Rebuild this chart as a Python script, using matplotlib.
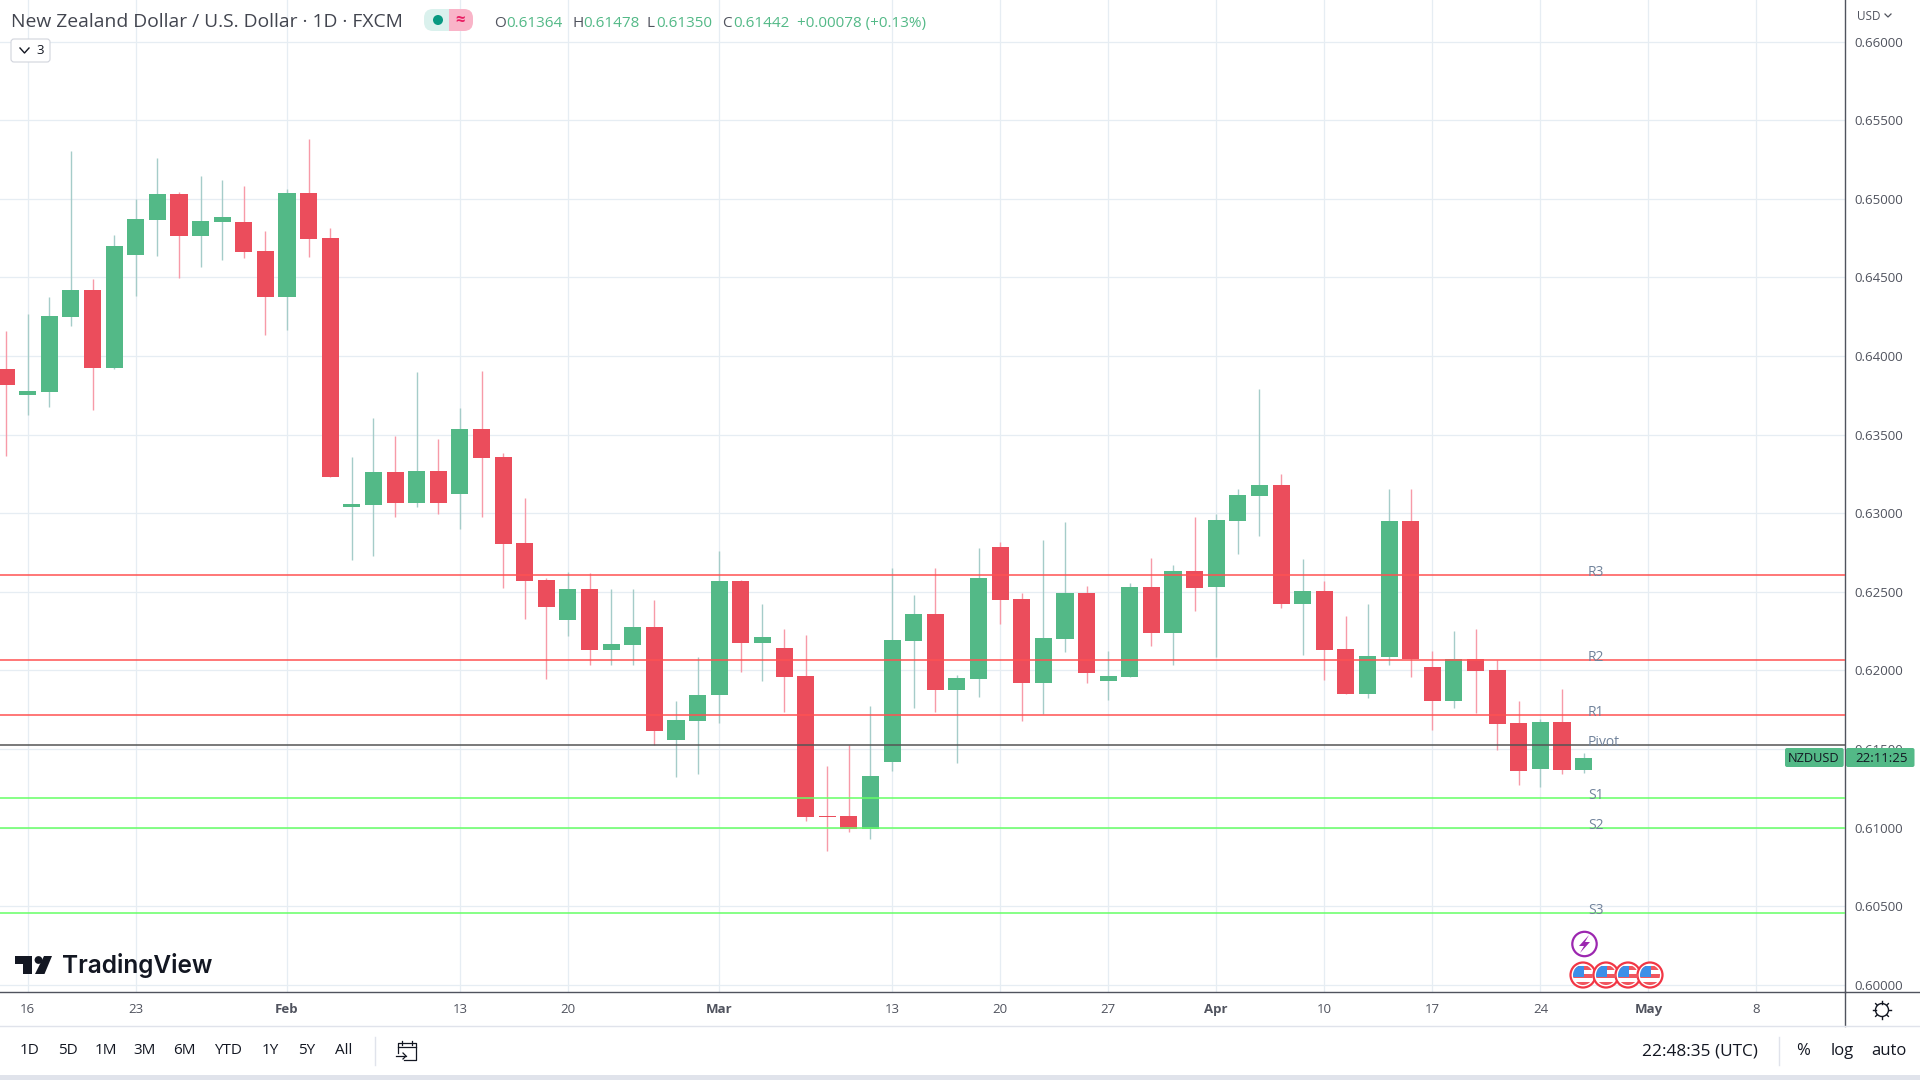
import numpy as np
import pandas as pd
import matplotlib
matplotlib.use("Agg")
import matplotlib.pyplot as plt
from matplotlib.patches import Circle, FancyBboxPatch, Polygon, Rectangle

plt.rcParams['font.family'] = ['Open Sans', 'DejaVu Sans']

# Candles from Fri 13 Jan 2023, one per weekday
opens = [0.63915, 0.63750, 0.63769, 0.64251, 0.64423, 0.63927, 0.64645, 0.64867, 0.65032, 0.64766,
         0.64854, 0.64854, 0.64670, 0.64378, 0.65039, 0.64753, 0.63039, 0.63051, 0.63261, 0.63064,
         0.63267, 0.63121, 0.63534, 0.63356, 0.62812, 0.62577, 0.62323, 0.62520, 0.62133, 0.62164,
         0.62279, 0.61561, 0.61676, 0.61841, 0.62571, 0.62177, 0.62145, 0.61968, 0.61072, 0.61072,
         0.60990, 0.61415, 0.62190, 0.62361, 0.61879, 0.61947, 0.62785, 0.62455, 0.61921, 0.62201,
         0.62493, 0.61934, 0.61959, 0.62531, 0.62239, 0.62632, 0.62531, 0.62950, 0.63108, 0.63178,
         0.62423, 0.62505, 0.62137, 0.61851, 0.62086, 0.62950, 0.62023, 0.61807, 0.62074, 0.62004,
         0.61667, 0.61375, 0.61674, 0.61364]
highs = [0.64162, 0.64270, 0.64378, 0.65305, 0.64492, 0.64772, 0.65000, 0.65261, 0.65045, 0.65146,
         0.65121, 0.65083, 0.64797, 0.65064, 0.65381, 0.64816, 0.63356, 0.63604, 0.63489, 0.63896,
         0.63470, 0.63667, 0.63908, 0.63381, 0.63098, 0.62590, 0.62628, 0.62622, 0.62520, 0.62520,
         0.62450, 0.61809, 0.62088, 0.62761, 0.62577, 0.62425, 0.62266, 0.62228, 0.61390, 0.61523,
         0.61777, 0.62653, 0.62482, 0.62653, 0.61974, 0.62778, 0.62816, 0.62493, 0.62829, 0.62943,
         0.62537, 0.62124, 0.62556, 0.62715, 0.62670, 0.62975, 0.62998, 0.63153, 0.63788, 0.63248,
         0.62708, 0.62569, 0.62347, 0.62423, 0.63153, 0.63153, 0.62124, 0.62251, 0.62264, 0.62067,
         0.61807, 0.61693, 0.61883, 0.61478]
lows = [0.63362, 0.63623, 0.63673, 0.64194, 0.63654, 0.63915, 0.64385, 0.64639, 0.64499, 0.64569,
        0.64613, 0.64626, 0.64137, 0.64169, 0.64632, 0.63229, 0.62703, 0.62728, 0.62975, 0.63039,
        0.62994, 0.62899, 0.62975, 0.62526, 0.62329, 0.61949, 0.62222, 0.62037, 0.62037, 0.62037,
        0.61523, 0.61320, 0.61339, 0.61669, 0.61993, 0.61936, 0.61733, 0.61041, 0.60850, 0.60971,
        0.60926, 0.61358, 0.61764, 0.61733, 0.61409, 0.61832, 0.62296, 0.61680, 0.61724, 0.62118,
        0.61921, 0.61813, 0.61959, 0.62156, 0.62035, 0.62378, 0.62086, 0.62740, 0.62855, 0.62397,
        0.62099, 0.61940, 0.61851, 0.61826, 0.62035, 0.61959, 0.61623, 0.61762, 0.61731, 0.61496,
        0.61274, 0.61261, 0.61343, 0.61350]
closes = [0.63813, 0.63775, 0.64258, 0.64423, 0.63927, 0.64702, 0.64873, 0.65032, 0.64766, 0.64861,
          0.64886, 0.64664, 0.64378, 0.65039, 0.64746, 0.63229, 0.63058, 0.63261, 0.63064, 0.63267,
          0.63064, 0.63534, 0.63350, 0.62805, 0.62571, 0.62406, 0.62520, 0.62133, 0.62171, 0.62279,
          0.61618, 0.61682, 0.61847, 0.62571, 0.62177, 0.62215, 0.61961, 0.61066, 0.61066, 0.60990,
          0.61326, 0.62196, 0.62361, 0.61879, 0.61955, 0.62588, 0.62448, 0.61921, 0.62207, 0.62493,
          0.61985, 0.61966, 0.62531, 0.62239, 0.62632, 0.62524, 0.62956, 0.63115, 0.63178, 0.62423,
          0.62505, 0.62131, 0.61851, 0.62093, 0.62950, 0.62074, 0.61807, 0.62074, 0.61997, 0.61661,
          0.61362, 0.61674, 0.61369, 0.61442]

tick_dates = ["2023-01-16", "2023-01-23", "2023-02-01", "2023-02-13", "2023-02-20", "2023-03-01", "2023-03-13",
              "2023-03-20", "2023-03-27", "2023-04-03", "2023-04-10", "2023-04-17", "2023-04-24", "2023-05-01",
              "2023-05-08"]
tick_labels = ["16", "23", "Feb", "13", "20", "Mar", "13", "20", "27", "Apr", "10", "17", "24", "May", "8"]
price_ticks = [0.600, 0.605, 0.610, 0.615, 0.620, 0.625, 0.630, 0.635, 0.640, 0.645, 0.650, 0.655, 0.660]

pivot_names = ["R3", "R2", "R1", "Pivot", "S1", "S2", "S3"]
pivot_levels = [0.62607, 0.62067, 0.61718, 0.61528, 0.61191, 0.60998, 0.60460]
pivot_colors = ["#ff5252", "#ff5252", "#ff5252", "#555555", "#66ff66", "#66ff66", "#66ff66"]

range_buttons = ["1D", "5D", "1M", "3M", "6M", "YTD", "1Y", "5Y", "All"]
range_x = [30, 68, 106, 145, 184, 228, 270, 307, 344]

GREEN = "#53b987"
RED = "#eb4d5c"
GRID = "#e6edf3"
DARK = "#131722"
GREY = "#50535e"

W, H = 1920, 1080
PLOT_R, PLOT_B = 1845.3, 992.3

fig = plt.figure(figsize=(W / 100, H / 100), dpi=100, facecolor="white")
ax = fig.add_axes([0, 1 - PLOT_B / H, PLOT_R / W, PLOT_B / H])

days = pd.bdate_range("2023-01-13", "2023-05-31")
idx = np.arange(len(opens))
o, h, l, c = map(np.array, (opens, highs, lows, closes))
up = c >= o

# wicks are a lighter shade of the body
ax.vlines(idx[up], l[up], h[up], color="#a5ccc9", lw=1.0, zorder=3)
ax.vlines(idx[~up], l[~up], h[~up], color="#f79aa8", lw=1.0, zorder=3)
ax.bar(idx[up], (c - o)[up], bottom=o[up], width=0.79, color=GREEN, lw=0, zorder=4)
ax.bar(idx[~up], (o - c)[~up], bottom=c[~up], width=0.79, color=RED, lw=0, zorder=4)

for level, color in zip(pivot_levels, pivot_colors):
    ax.axhline(level, color=color, lw=1.1, zorder=5)

# the labels start just right of the last bar and sit on their line
for name, level in zip(pivot_names, pivot_levels):
    ax.text(idx[-1] + 0.2, level + 0.00014, name, color="#71839b", fontsize=10, va="center", ha="left", zorder=6)

ax.set_xlim(-0.282, 85.11)
ax.set_ylim(0.59953, 0.66265)
ax.set_xticks(days.get_indexer(pd.to_datetime(tick_dates)))
ax.set_xticklabels(tick_labels, fontsize=9.5, color=GREY)
for lab in ax.get_xticklabels():
    if lab.get_text() in ("Feb", "Mar", "Apr", "May"):
        lab.set_fontweight("bold")
ax.set_yticks(price_ticks)
ax.set_yticklabels([f"{p:.5f}" for p in price_ticks], fontsize=9.5, color=GREY)
ax.yaxis.tick_right()
ax.tick_params(axis="x", length=0, pad=8)
ax.tick_params(axis="y", length=0, pad=6.5)
ax.grid(True, color=GRID, lw=0.9, zorder=0)
ax.set_axisbelow(True)
for side in ("top", "left"):
    ax.spines[side].set_visible(False)
ax.spines["right"].set_color(GREY)
ax.spines["bottom"].set_color(GREY)
ax.spines["right"].set_linewidth(1.0)
ax.spines["bottom"].set_linewidth(1.0)

# Overlay in screen pixels for the TradingView chrome
ov = fig.add_axes([0, 0, 1, 1], zorder=10)
ov.set_xlim(0, W)
ov.set_ylim(H, 0)
ov.axis("off")
ov.patch.set_alpha(0)

# header
ov.text(11, 22, "New Zealand Dollar / U.S. Dollar · 1D · FXCM", fontsize=13.9, color="#42454f", va="center")
ov.add_patch(FancyBboxPatch((424, 9), 22, 22, boxstyle="round,pad=0,rounding_size=9", fc="#daf1ed", ec="none"))
ov.add_patch(Rectangle((436, 9), 13, 22, fc="#daf1ed", ec="none"))
ov.add_patch(FancyBboxPatch((451, 9), 22, 22, boxstyle="round,pad=0,rounding_size=9", fc="#f9b4c8", ec="none"))
ov.add_patch(Rectangle((449, 9), 12, 22, fc="#f9b4c8", ec="none"))
ov.add_patch(Circle((438, 20), 5, fc="#089981", ec="none"))
ov.text(460, 20, "≈", fontsize=12, color="#e91e63", ha="center", va="center", fontweight="bold")
for x, s, col in [(494, "O", GREY), (506, "0.61364", GREEN), (572, "H", GREY), (583, "0.61478", GREEN),
                  (647, "L", GREY), (656, "0.61350", GREEN), (722, "C", GREY), (733, "0.61442", GREEN),
                  (797, "+0.00078 (+0.13%)", GREEN)]:
    ov.text(x, 23.5, s, fontsize=11, color=col, va="center")

# collapse button
ov.add_patch(FancyBboxPatch((11, 39), 39, 23, boxstyle="round,pad=0,rounding_size=3", fc="white", ec="#d1d4dc", lw=0.8))
ov.plot([20, 24.5, 29], [48, 53, 48], color=DARK, lw=1.0)
ov.text(40, 50, "3", fontsize=9.5, color=DARK, ha="center", va="center")

# USD selector
ov.text(1857, 16, "USD", fontsize=8.5, color=GREY, va="center")
ov.plot([1885, 1888, 1891], [14, 17, 14], color=GREY, lw=0.9)

# logo
ov.add_patch(Polygon([(15, 956), (32, 956), (32, 974), (23, 974), (23, 964), (15, 964)], fc=DARK, ec="none"))
ov.add_patch(Circle((38.5, 960), 3.9, fc=DARK, ec="none"))
ov.add_patch(Polygon([(44, 956), (52, 956), (44.5, 974), (35, 974)], fc=DARK, ec="none"))
ov.text(62, 966, "TradingView", fontsize=17.6, color=DARK, va="center", fontfamily="Inter", fontweight="semibold")

# event markers
ov.add_patch(Circle((1584.5, 944), 12.2, fc="white", ec="#9c27b0", lw=1.6))
ov.add_patch(Polygon([(1589, 935), (1579, 946), (1584, 946), (1580, 953), (1590, 942), (1585, 942)], fc="#9c27b0", ec="none"))
for cx in [1583, 1606, 1628, 1650]:
    ov.add_patch(Circle((cx, 975), 12.5, fc="white", ec="#f23645", lw=1.6, zorder=3))
    inner = Circle((cx, 975), 10, transform=ov.transData)
    for y0 in [966, 974, 982]:
        stripe = Rectangle((cx - 11, y0), 22, 4, fc="#f0565f", ec="none", zorder=4)
        ov.add_patch(stripe)
        stripe.set_clip_path(inner)
    canton = Rectangle((cx - 10, 966), 11, 11, fc="#3d8fe8", ec="none", zorder=5)
    ov.add_patch(canton)
    canton.set_clip_path(inner)

# last price labels
ov.add_patch(FancyBboxPatch((1785, 748), 58.7, 19, boxstyle="round,pad=0,rounding_size=2", fc=GREEN, ec="none"))
ov.add_patch(FancyBboxPatch((1846, 748), 68.5, 19, boxstyle="round,pad=0,rounding_size=2", fc=GREEN, ec="none"))
ov.text(1814, 758, "NZDUSD", fontsize=9.2, color=DARK, ha="center", va="center")
ov.text(1882, 758, "22:11:25", fontsize=9.5, color=DARK, ha="center", va="center")

# axis frame and bottom toolbar
ov.plot([PLOT_R, PLOT_R], [PLOT_B, 1026], color=GREY, lw=1.0)
ov.plot([PLOT_R, W], [PLOT_B, PLOT_B], color=GREY, lw=1.0)
ov.plot([0, W], [1026, 1026], color="#e0e3eb", lw=1.0)
ov.add_patch(Rectangle((0, 1075), W, 5, fc="#e0e3eb", ec="none"))

# gear
ov.add_patch(Circle((1882, 1010), 6.5, fc="white", ec=DARK, lw=1.0))
for a in np.arange(0, 360, 45):
    dx, dy = np.cos(np.radians(a)), np.sin(np.radians(a))
    ov.plot([1882 + 6.5 * dx, 1882 + 9 * dx], [1010 + 6.5 * dy, 1010 + 9 * dy], color=DARK, lw=1.0)

for x, s in zip(range_x, range_buttons):
    ov.text(x, 1051, s, fontsize=11, color=DARK, ha="center", va="center")
ov.plot([375, 375], [1037, 1065], color="#e0e3eb", lw=1.0)

# calendar icon
ov.plot([398, 398, 416, 416, 404], [1053, 1043, 1043, 1060, 1060], color=DARK, lw=0.9)
ov.plot([398, 416], [1047, 1047], color=DARK, lw=0.9)
ov.plot([402, 402], [1041, 1045], color=DARK, lw=0.9)
ov.plot([412, 412], [1041, 1045], color=DARK, lw=0.9)
ov.plot([396, 406], [1056, 1056], color=DARK, lw=0.9)
ov.plot([403, 406, 403], [1053, 1056, 1059], color=DARK, lw=0.9)

ov.text(1700, 1051, "22:48:35 (UTC)", fontsize=12.4, color=DARK, ha="center", va="center")
ov.plot([1779, 1779], [1037, 1065], color="#e0e3eb", lw=1.0)
ov.text(1803, 1051, "%", fontsize=12, color=DARK, ha="center", va="center")
ov.text(1842, 1051, "log", fontsize=12, color=DARK, ha="center", va="center")
ov.text(1889, 1051, "auto", fontsize=12, color=DARK, ha="center", va="center")

fig.savefig("out.png", dpi=100)
